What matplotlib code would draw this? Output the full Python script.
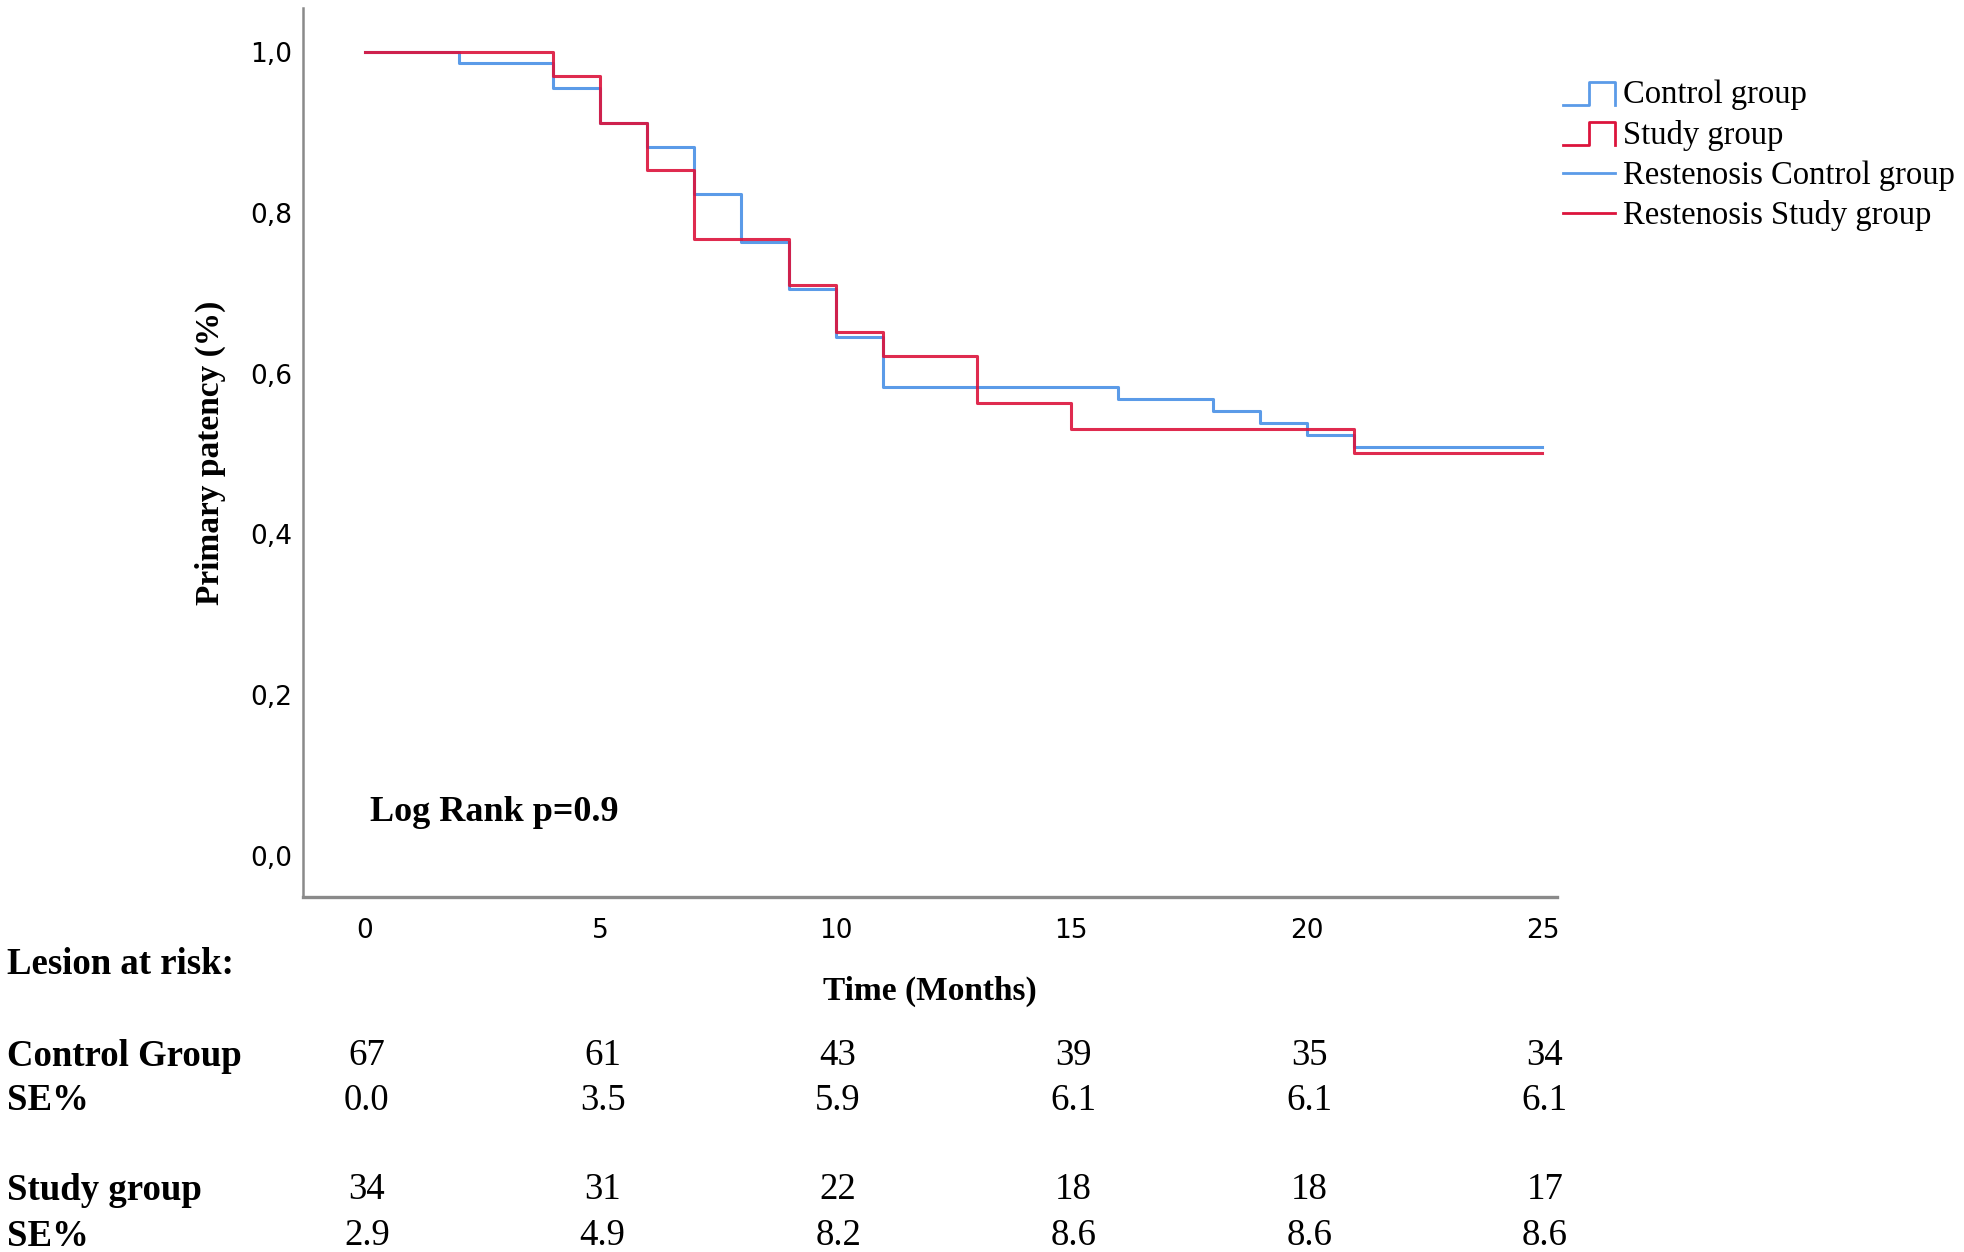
import numpy as np
import matplotlib
matplotlib.use('Agg')
import matplotlib.pyplot as plt
from matplotlib.lines import Line2D
from matplotlib.legend_handler import HandlerBase
from matplotlib.transforms import blended_transform_factory

# Kaplan-Meier estimates
control_times = [0, 2, 4, 5, 6, 7, 8, 9, 10, 11, 16, 18, 19, 20, 21, 25]
control_surv = [1.0, 0.986, 0.956, 0.912, 0.882, 0.823, 0.764, 0.705, 0.646,
                0.583, 0.569, 0.554, 0.539, 0.524, 0.509, 0.509]
study_times = [0, 4, 5, 6, 7, 9, 10, 11, 13, 15, 21, 25]
study_surv = [1.0, 0.970, 0.912, 0.854, 0.768, 0.710, 0.652, 0.622, 0.564,
              0.531, 0.501, 0.501]

# risk table
risk_times = [0, 5, 10, 15, 20, 25]
control_at_risk = [67, 61, 43, 39, 35, 34]
control_se = ['0.0', '3.5', '5.9', '6.1', '6.1', '6.1']
study_at_risk = [34, 31, 22, 18, 18, 17]
study_se = ['2.9', '4.9', '8.2', '8.6', '8.6', '8.6']

x_ticks = [0, 5, 10, 15, 20, 25]
y_ticks = [0.0, 0.2, 0.4, 0.6, 0.8, 1.0]

BLUE = '#5b9be8'
RED = '#dc143c'
SERIF = ['Liberation Serif', 'DejaVu Serif']
NARROW = ['Liberation Sans Narrow', 'DejaVu Sans']

W, H = 1965, 1252


def fx(px):
    return px / W


def fy(py):
    return 1 - py / H


class StepHandler(HandlerBase):
    # legend glyph shaped like a small step
    def create_artists(self, legend, orig_handle, xdescent, ydescent,
                       width, height, fontsize, trans):
        lo, hi = -0.05 * height, 0.95 * height
        xs = np.array([0, 0.5, 0.5, 1.0, 1.0]) * width - xdescent
        ys = np.array([lo, lo, hi, hi, lo]) - ydescent
        line = Line2D(xs, ys, color=orig_handle.get_color(), lw=2.0)
        line.set_transform(trans)
        return [line]


fig = plt.figure(figsize=(W / 100, H / 100), dpi=100)
ax = fig.add_axes([fx(303), fy(897), fx(1557.5) - fx(303), fy(8) - fy(897)])

blue_line, = ax.step(control_times, control_surv, where='post', color=BLUE,
                     lw=2.2, zorder=3)
red_line, = ax.step(study_times, study_surv, where='post', color=RED,
                    lw=2.2, alpha=0.9, zorder=4)

ax.set_xlim(-1.307, 25.32)
ax.set_ylim(-0.051, 1.055)
ax.set_xticks(x_ticks)
ax.set_yticks(y_ticks)
ax.set_xticklabels([str(t) for t in x_ticks], family=NARROW, fontsize=19)
ax.set_yticklabels([f'{t:.1f}'.replace('.', ',') for t in y_ticks],
                   family=NARROW, fontsize=19)
ax.tick_params(axis='both', length=0)
ax.tick_params(axis='x', pad=15)
ax.tick_params(axis='y', pad=8)

for side in ['top', 'right']:
    ax.spines[side].set_visible(False)
ax.spines['left'].set_color('#8a8a8a')
ax.spines['left'].set_linewidth(1.8)
ax.spines['bottom'].set_color('#8a8a8a')
ax.spines['bottom'].set_linewidth(2.4)

ax.text(0.0534, 0.0945, 'Log Rank p=0.9', transform=ax.transAxes,
        family=SERIF, fontsize=26, fontweight='bold', ha='left', va='center')

# legend
restenosis_c = Line2D([], [], color=BLUE, lw=2.0)
restenosis_s = Line2D([], [], color=RED, lw=2.0)
leg = fig.legend([blue_line, red_line, restenosis_c, restenosis_s],
                 ['Control group', 'Study group', 'Restenosis Control group',
                  'Restenosis Study group'],
                 handler_map={blue_line: StepHandler(), red_line: StepHandler()},
                 loc='upper left', bbox_to_anchor=(fx(1563), fy(80)),
                 frameon=False, borderpad=0, borderaxespad=0,
                 handlelength=1.6, handletextpad=0.25, labelspacing=0.29,
                 prop={'family': SERIF, 'size': 23.5})

# axis labels
fig.text(fx(210), fy(453), 'Primary patency (%)', rotation=90, family=SERIF,
         fontsize=24, fontweight='bold', ha='center', va='center')
fig.text(fx(930), fy(991), 'Time (Months)', family=SERIF, fontsize=24,
         fontweight='bold', ha='center', va='center')

# risk table
fig.text(fx(7), fy(965), 'Lesion at risk:', family=SERIF, fontsize=26.5,
         fontweight='bold', ha='left', va='center')
rows = [('Control Group', control_at_risk, 1056),
        ('SE%', control_se, 1101),
        ('Study group', study_at_risk, 1190),
        ('SE%', study_se, 1236)]
tr = blended_transform_factory(ax.transData, fig.transFigure)
for label, vals, ypx in rows:
    fig.text(fx(7), fy(ypx), label, family=SERIF, fontsize=26.5,
             fontweight='bold', ha='left', va='center')
    for t, v in zip(risk_times, vals):
        ax.text(t + 0.05, fy(ypx), str(v), transform=tr, family=SERIF,
                fontsize=26.5, ha='center', va='center', clip_on=False)

fig.savefig('out.png', dpi=100)
